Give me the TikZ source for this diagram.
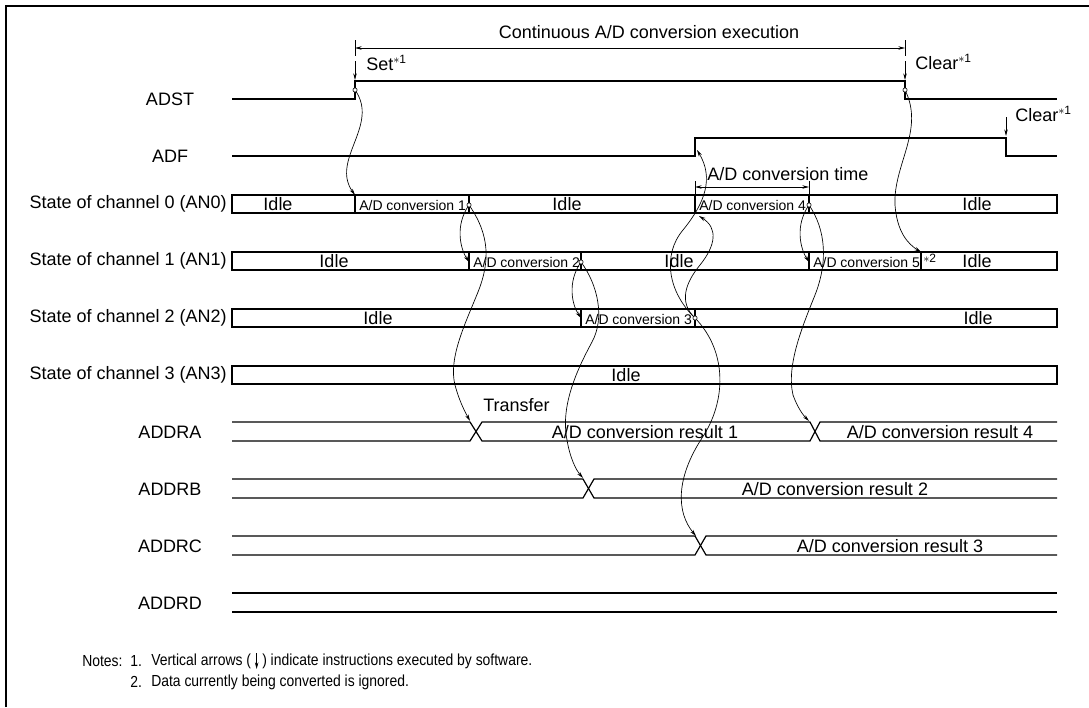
\documentclass[tikz,border=0pt]{standalone}
\usepackage{fontspec}
\setmainfont{Liberation Sans}
\newfontfamily\notefont[FakeStretch=0.87]{Liberation Sans}
\usetikzlibrary{arrows.meta}
\newcommand{\starsup}[1]{\raisebox{0.42em}{\fontsize{9}{9}\selectfont$\ast$#1}}
\begin{document}
\begin{tikzpicture}[x=0.75pt,y=-0.75pt,
  sig/.style={line width=0.9pt},
  curv/.style={line width=0.5pt},
  tipped/.style={curv,-{Stealth[length=5pt,width=2.6pt]}},
  dimline/.style={curv,{Stealth[length=5pt,width=2.6pt]}-{Stealth[length=5pt,width=2.6pt]}},
  lbl/.style={font=\fontsize{13.5}{15}\selectfont, inner sep=0pt},
  sml/.style={font=\fontsize{10.5}{12}\selectfont, inner sep=0pt},
  nts/.style={font=\notefont\fontsize{12}{14}\selectfont, inner sep=0pt},
  dotc/.style={circle, draw, fill=white, inner sep=0pt, minimum size=3.2pt, line width=0.45pt}]
\useasboundingbox (0,0) rectangle (1089,707);
% frame
\draw[line width=1.6pt] (6,707) -- (6,6) -- (1089,6);

% ---------- key points ----------
\coordinate (adstR) at (355,90);
\coordinate (adstF) at (905,90);
\coordinate (c0s1) at (355,195);
\coordinate (e1) at (469,205);
\coordinate (c1s2) at (469,262);
\coordinate (e2) at (581,262);
\coordinate (c2s3) at (581,318);
\coordinate (e3) at (695,318);
\coordinate (c0s4) at (699,216);
\coordinate (adfR) at (697,150);
\coordinate (e4) at (809,205);
\coordinate (c1s5) at (809,262);
\coordinate (c1e5) at (921,252);
\coordinate (xA1) at (470,421);
\coordinate (xB) at (583,478);
\coordinate (xC) at (696,536);
\coordinate (xA2) at (809,421);

% ---------- signals ----------
\node[lbl] (lADST) at (170,99) {ADST};
\draw[sig] (232,99) -- (355,99) -- (355,81) -- (905,81) -- (905,99) -- (1057,99);
\node[lbl] (lADF) at (170,156) {ADF};
\draw[sig] (232,156) -- (695,156) -- (695,138) -- (1006,138) -- (1006,156) -- (1057,156);

% continuous execution dimension
\node[lbl] (tCont) at (649,32) {Continuous A/D conversion execution};
\coordinate (dL) at (355,48);
\coordinate (dR) at (905,48);
\draw[curv] (355,40) -- (355,56);
\draw[curv] (905,40) -- (905,56);
\draw[dimline] (dL) -- (dR);

% software arrows
\coordinate (setT) at (355,61);
\coordinate (setB) at (355,80);
\draw[tipped] (setT) -- (setB);
\node[lbl, anchor=west] (tSet) at (366,63) {Set\starsup{1}};
\coordinate (clrT) at (905,61);
\coordinate (clrB) at (905,80);
\draw[tipped] (clrT) -- (clrB);
\node[lbl, anchor=west] (tClr1) at (915,62) {Clear\starsup{1}};
\coordinate (clr2T) at (1006,117);
\coordinate (clr2B) at (1006,136);
\draw[tipped] (clr2T) -- (clr2B);
\node[lbl, anchor=west] (tClr2) at (1015,114) {Clear\starsup{1}};

% conversion time dimension
\draw[curv] (695,181) -- (695,195);
\draw[curv] (809,181) -- (809,195);
\coordinate (ctL) at (695,187);
\coordinate (ctR) at (809,187);
\draw[dimline] (ctL) -- (ctR);
\node[lbl, anchor=west] (tTime) at (707,174) {A/D conversion time};

% ---------- channel states ----------
\node[lbl, anchor=east] (lC0) at (227,204) {State of channel 0 (AN0)};
\node[lbl, anchor=east] (lC1) at (227,261) {State of channel 1 (AN1)};
\node[lbl, anchor=east] (lC2) at (227,318) {State of channel 2 (AN2)};
\node[lbl, anchor=east] (lC3) at (227,375) {State of channel 3 (AN3)};

\draw[sig] (232,195) rectangle (1057,213);
\draw[sig] (355,195) -- (355,213) (469,195) -- (469,213) (695,195) -- (695,213) (809,195) -- (809,213);
\draw[sig] (232,252) rectangle (1057,270);
\draw[sig] (469,252) -- (469,270) (581,252) -- (581,270) (809,252) -- (809,270) (921,252) -- (921,270);
\draw[sig] (232,309) rectangle (1057,327);
\draw[sig] (581,309) -- (581,327) (695,309) -- (695,327);
\draw[sig] (232,366) rectangle (1057,384);

\node[lbl] (i00) at (278,204) {Idle};
\node[sml, anchor=west] (cv1) at (359,205) {A/D conversion 1};
\node[lbl] (i01) at (567,204) {Idle};
\node[sml, anchor=west] (cv4) at (699,205) {A/D conversion 4};
\node[lbl] (i02) at (977,204) {Idle};

\node[lbl] (i10) at (334,261) {Idle};
\node[sml, anchor=west] (cv2) at (473,262) {A/D conversion 2};
\node[lbl] (i11) at (679,261) {Idle};
\node[sml, anchor=west] (cv5) at (813,262) {A/D conversion 5};
\node[anchor=west, inner sep=0pt] (ast2) at (923,258) {\fontsize{9}{9}\selectfont$\ast$2};
\node[lbl] (i12) at (977,261) {Idle};

\node[lbl] (i20) at (378,318) {Idle};
\node[sml, anchor=west] (cv3) at (585,319) {A/D conversion 3};
\node[lbl] (i21) at (978,318) {Idle};

\node[lbl] (i30) at (626,375) {Idle};

% ---------- data registers ----------
\node[lbl] (lA) at (170,432) {ADDRA};
\draw[sig] (232,422) -- (470,422) -- (482,441) -- (810,441) -- (820,422) -- (1057,422);
\draw[sig] (232,441) -- (470,441) -- (482,422) -- (810,422) -- (820,441) -- (1057,441);
\node[lbl, anchor=west] (tTr) at (483,405) {Transfer};
\node[lbl] (rA1) at (645,432) {A/D conversion result 1};
\node[lbl] (rA4) at (940,432) {A/D conversion result 4};

\node[lbl] (lB) at (170,489) {ADDRB};
\draw[sig] (232,479) -- (583,479) -- (594,498) -- (1057,498);
\draw[sig] (232,498) -- (583,498) -- (594,479) -- (1057,479);
\node[lbl] (rB2) at (835,489) {A/D conversion result 2};

\node[lbl] (lC) at (170,546) {ADDRC};
\draw[sig] (232,536) -- (695,536) -- (706,555) -- (1057,555);
\draw[sig] (232,555) -- (695,555) -- (706,536) -- (1057,536);
\node[lbl] (rC3) at (890,546) {A/D conversion result 3};

\node[lbl] (lD) at (170,603) {ADDRD};
\draw[sig] (232,593) -- (1057,593);
\draw[sig] (232,612) -- (1057,612);

% ---------- causal curves ----------
\draw[tipped] (adstR) .. controls (380,125) and (330,160) .. (c0s1);
\draw[tipped] (adstF) .. controls (925,130) and (893,165) .. (895,205) .. controls (897,232) and (908,244) .. (c1e5);
\draw[tipped] (e1) .. controls (455,225) and (460,248) .. (c1s2);
\draw[tipped] (e1) .. controls (490,235) and (490,262) .. (478,292) .. controls (466,322) and (448,358) .. (455,385) .. controls (459,400) and (464,410) .. (xA1);
\draw[tipped] (e2) .. controls (567,282) and (572,305) .. (c2s3);
\draw[tipped] (e2) .. controls (598,285) and (605,318) .. (592,342) .. controls (578,368) and (560,405) .. (567,440) .. controls (570,458) and (576,470) .. (xB);
\draw[tipped] (e3) .. controls (678,302) and (686,282) .. (700,265) .. controls (716,245) and (718,228) .. (c0s4);
\draw[tipped] (e3) .. controls (668,292) and (662,255) .. (683,230) .. controls (705,203) and (714,178) .. (adfR);
\draw[tipped] (e3) .. controls (728,352) and (726,402) .. (702,438) .. controls (676,478) and (676,512) .. (xC);
\draw[tipped] (e4) .. controls (795,225) and (800,248) .. (c1s5);
\draw[tipped] (e4) .. controls (826,230) and (828,262) .. (815,295) .. controls (803,325) and (786,365) .. (793,395) .. controls (797,406) and (802,414) .. (xA2);

% end-of-conversion dots
\node[dotc] (dA) at (adstR) {};
\node[dotc] (dF) at (adstF) {};
\node[dotc] (d1) at (e1) {};
\node[dotc] (d2) at (e2) {};
\node[dotc] (d3) at (e3) {};
\node[dotc] (d4) at (e4) {};

% ---------- notes ----------
\node[nts, anchor=west] (nN) at (82,661) {Notes:};
\node[nts, anchor=west] (n1) at (130,661) {1.};
\node[nts, anchor=west] (n1a) at (151,661) {Vertical arrows (};
\coordinate (nArT) at ([xshift=4pt]n1a.east |- 0,653);
\coordinate (nArB) at ([xshift=4pt]n1a.east |- 0,669);
\draw[tipped] (nArT) -- (nArB);
\node[nts, anchor=west] (n1b) at ([xshift=8pt]n1a.east) {) indicate instructions executed by software.};
\node[nts, anchor=west] (n2) at (130,682) {2.};
\node[nts, anchor=west] (n2a) at (151,682) {Data currently being converted is ignored.};
\end{tikzpicture}
\end{document}
